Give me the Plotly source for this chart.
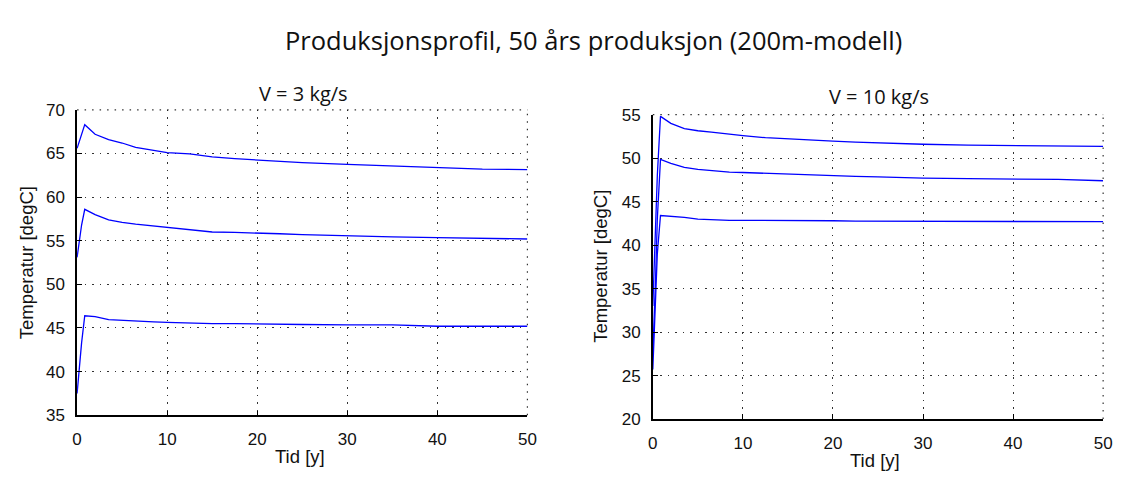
import plotly.graph_objects as go

# Time axis (years) for each panel
t_3 = [0, 0.2, 0.5, 0.85, 2, 3.5, 5, 6.5, 8.5, 10, 12.5, 15, 17.5, 20,
       22.5, 25, 30, 35, 40, 45, 50]
t_10 = [0, 0.15, 0.3, 0.5, 0.85, 2, 3.5, 5, 6.5, 8.5, 10, 12.5, 15, 17.5, 20,
        22.5, 25, 30, 35, 40, 45, 50]

# Production temperature, V = 3 kg/s
v3_high = [65.6, 66.3, 67.3, 68.3, 67.2, 66.6, 66.2, 65.7, 65.35, 65.1, 64.95,
           64.6, 64.4, 64.25, 64.1, 63.95, 63.75, 63.55, 63.35, 63.2, 63.15]
v3_mid = [53.1, 54.8, 56.8, 58.6, 58.0, 57.4, 57.1, 56.9, 56.7, 56.55, 56.25,
          56.0, 55.95, 55.9, 55.8, 55.7, 55.55, 55.45, 55.35, 55.25, 55.2]
v3_low = [37.5, 40.0, 43.3, 46.4, 46.3, 45.95, 45.85, 45.8, 45.7, 45.65, 45.55,
          45.5, 45.5, 45.45, 45.4, 45.4, 45.35, 45.35, 45.2, 45.2, 45.2]

# Production temperature, V = 10 kg/s
v10_high = [33.0, 38.0, 42.0, 48.0, 54.8, 54.0, 53.4, 53.15, 53.0, 52.75, 52.6,
            52.35, 52.2, 52.05, 51.95, 51.85, 51.75, 51.6, 51.5, 51.45, 51.4, 51.35]
v10_mid = [27.5, 31.0, 36.0, 43.0, 49.85, 49.4, 48.95, 48.7, 48.55, 48.4, 48.35,
           48.25, 48.15, 48.05, 48.0, 47.9, 47.85, 47.7, 47.65, 47.6, 47.55, 47.4]
v10_low = [25.7, 30.0, 34.5, 39.0, 43.4, 43.35, 43.2, 43.0, 42.9, 42.85, 42.85,
           42.85, 42.85, 42.8, 42.8, 42.75, 42.75, 42.75, 42.7, 42.7, 42.7, 42.7]

x_ticks = [0, 10, 20, 30, 40, 50]
y_ticks_3 = [35, 40, 45, 50, 55, 60, 65, 70]
y_ticks_10 = [20, 25, 30, 35, 40, 45, 50, 55]

main_title = "Produksjonsprofil, 50 års produksjon (200m-modell)"
panel_titles = ["V = 3 kg/s", "V = 10 kg/s"]
x_label = "Tid [y]"
y_label = "Temperatur [degC]"

W, H = 1123, 480
LINE = dict(color="rgb(0,0,255)", width=1.3)
SANS = "Liberation Sans, Arial, sans-serif"
TICK_FONT = dict(family=SANS, size=17, color="#111")
LABEL_FONT = dict(family=SANS, size=18.5, color="#111")
TITLE_FAMILY = "Open Sans, Lato, sans-serif"
GRID_COLOR = "rgba(0,0,0,0.8)"
GRID_DASH = "1.5px,6px"

fig = go.Figure()
for y in (v3_high, v3_mid, v3_low):
    fig.add_trace(go.Scatter(x=t_3, y=y, mode="lines", line=LINE,
                             xaxis="x", yaxis="y", showlegend=False,
                             hoverinfo="skip"))
for y in (v10_high, v10_mid, v10_low):
    fig.add_trace(go.Scatter(x=t_10, y=y, mode="lines", line=LINE,
                             xaxis="x2", yaxis="y2", showlegend=False,
                             hoverinfo="skip"))


def px_x(p):
    return p / W


def px_y(p):
    return 1 - p / H


def axis_common(ticks, rng, anchor, standoff):
    return dict(range=rng, tickvals=ticks, ticks="inside", ticklen=5,
                tickcolor="#000", showline=True, linecolor="#000",
                linewidth=1.5, mirror=False, showgrid=True,
                gridcolor=GRID_COLOR, griddash=GRID_DASH, gridwidth=1.2,
                zeroline=False, tickfont=TICK_FONT, anchor=anchor,
                ticklabelstandoff=standoff, fixedrange=True)


# Left panel occupies x 73..529 px, y 105..423 px
fig.update_layout(
    xaxis=dict(domain=[px_x(73), px_x(529)], **axis_common(x_ticks, [0, 50], "y", 8)),
    yaxis=dict(domain=[px_y(423), px_y(105)], **axis_common(y_ticks_3, [35, 70], "x", 7)),
    # Right panel occupies x 656..1112 px, y 110..427 px
    xaxis2=dict(domain=[px_x(656), px_x(1112)], **axis_common(x_ticks, [0, 50], "y2", 8)),
    yaxis2=dict(domain=[px_y(427), px_y(110)], **axis_common(y_ticks_10, [20, 55], "x2", 7)),
)

# Dotted frame on the top and right edges of each panel (the grid lines at the
# range limits, which plotly does not draw itself)
for xr, yr in (("x", "y"), ("x2", "y2")):
    edge = dict(type="line", xref=f"{xr} domain", yref=f"{yr} domain",
                line=dict(color=GRID_COLOR, width=1.2, dash=GRID_DASH),
                layer="below")
    fig.add_shape(x0=0, x1=1, y0=1, y1=1, **edge)
    fig.add_shape(x0=1, x1=1, y0=0, y1=1, **edge)

annotations = [
    dict(text=main_title, x=px_x(596), y=px_y(32),
         font=dict(family=TITLE_FAMILY, size=25.5, color="#111")),
    dict(text=panel_titles[0], x=px_x(302), y=px_y(88),
         font=dict(family=TITLE_FAMILY, size=20, color="#111")),
    dict(text=panel_titles[1], x=px_x(885), y=px_y(91),
         font=dict(family=TITLE_FAMILY, size=20, color="#111")),
    dict(text=x_label, x=px_x(299), y=px_y(466), font=LABEL_FONT),
    dict(text=x_label, x=px_x(881), y=px_y(470), font=LABEL_FONT),
    dict(text=y_label, x=px_x(22), y=px_y(264), textangle=-90, font=LABEL_FONT),
    dict(text=y_label, x=px_x(603), y=px_y(268), textangle=-90, font=LABEL_FONT),
]
for a in annotations:
    a.update(xref="paper", yref="paper", showarrow=False,
             xanchor="center", yanchor="middle")
fig.update_layout(
    annotations=annotations,
    width=W, height=H,
    margin=dict(l=0, r=0, t=0, b=0),
    paper_bgcolor="white", plot_bgcolor="white",
)

fig.write_html("out.html", config={"displayModeBar": False})
